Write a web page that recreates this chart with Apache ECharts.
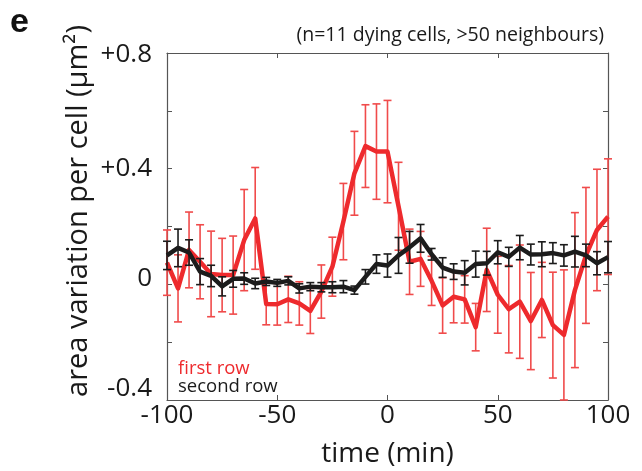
<!DOCTYPE html>
<html><head><meta charset="utf-8">
<script src="https://cdn.jsdelivr.net/npm/echarts@6/dist/echarts.min.js"></script>
<style>html,body{margin:0;padding:0;background:#fff}#c{width:642px;height:471px}</style>
</head><body><div id="c"></div>
<script>
var times = [-100,-95,-90,-85,-80,-75,-70,-65,-60,-55,-50,-45,-40,-35,-30,-25,-20,-15,-10,-5,0,5,10,15,20,25,30,35,40,45,50,55,60,65,70,75,80,85,90,95,100];
var firstRow = [0.075,-0.014,0.119,0.078,0.036,0.032,0.032,0.153,0.228,-0.068,-0.069,-0.052,-0.066,-0.092,-0.025,0.061,0.217,0.384,0.478,0.459,0.459,0.27,0.078,0.088,0.012,-0.073,-0.043,-0.052,-0.148,0.05,-0.036,-0.086,-0.06,-0.127,-0.054,-0.141,-0.175,-0.02,0.1,0.188,0.234];
var firstRowErr = [0.113,0.116,0.131,0.128,0.148,0.127,0.135,0.175,0.176,0.072,0.072,0.08,0.075,0.078,0.092,0.102,0.132,0.145,0.143,0.165,0.177,0.152,0.113,0.095,0.085,0.096,0.09,0.082,0.082,0.144,0.133,0.151,0.196,0.168,0.13,0.183,0.225,0.268,0.235,0.21,0.2];
var secondRow = [0.1,0.126,0.11,0.044,0.029,-0.007,0.019,0.02,0.003,0.01,0.005,0.012,-0.014,-0.008,-0.01,-0.01,-0.008,-0.02,0.026,0.07,0.065,0.1,0.128,0.159,0.104,0.058,0.044,0.04,0.07,0.073,0.111,0.095,0.127,0.103,0.104,0.108,0.1,0.113,0.1,0.073,0.094];
var secondRowErr = [0.049,0.065,0.044,0.045,0.037,0.033,0.029,0.02,0.018,0.014,0.012,0.014,0.016,0.014,0.016,0.019,0.021,0.014,0.025,0.032,0.04,0.062,0.055,0.048,0.02,0.034,0.027,0.042,0.045,0.041,0.04,0.033,0.042,0.036,0.043,0.036,0.037,0.053,0.039,0.04,0.054];
var yTickLabels = {'0.8':'+0.8','0.4':'+0.4','0':'0','-0.4':'-0.4'};

var FONT = 'Open Sans';
var RED = '#ee2a2d', RED_BAR = '#f04b4b', BLACK = '#1c1c1c';

function pairs(vals){ return times.map(function(t,i){ return [t, vals[i]]; }); }
function errData(vals, errs){ return times.map(function(t,i){ return [t, vals[i]-errs[i], vals[i]+errs[i]]; }); }
function errRender(color){
  return function(params, api){
    var x = api.value(0);
    var lo = api.coord([x, api.value(1)]);
    var hi = api.coord([x, api.value(2)]);
    var hw = 4;
    var st = {stroke: color, lineWidth: 1.6};
    return {type:'group', children:[
      {type:'line', shape:{x1:lo[0],y1:lo[1],x2:hi[0],y2:hi[1]}, style:st},
      {type:'line', shape:{x1:lo[0]-hw,y1:lo[1],x2:lo[0]+hw,y2:lo[1]}, style:st},
      {type:'line', shape:{x1:hi[0]-hw,y1:hi[1],x2:hi[0]+hw,y2:hi[1]}, style:st}
    ]};
  };
}

var chart = echarts.init(document.getElementById('c'), null, {renderer:'canvas'});
var axisLineStyle = {onZero:false, lineStyle:{color:'#555', width:1.2}};
var tickStyle = {inside:true, length:5, lineStyle:{color:'#555', width:1}};
var labelRich = {
  t:{fontFamily:FONT, fontSize:26, color:'#1a1a1a', padding:[4,0,0,0]},
  m:{fontFamily:FONT, fontSize:26, color:'#1a1a1a'},
  z:{fontFamily:FONT, fontSize:26, color:'#1a1a1a', padding:[0,0,12,0]},
  b:{fontFamily:FONT, fontSize:26, color:'#1a1a1a', padding:[0,0,22,0]}
};
chart.setOption({
  animation:false,
  backgroundColor:'#fff',
  grid:{left:167, right:34, top:53, bottom:71, containLabel:false, outerBoundsMode:'none'},
  xAxis:[
    {type:'value', min:-100, max:100, interval:50, position:'bottom',
     axisLine:axisLineStyle, axisTick:tickStyle, splitLine:{show:false},
     axisLabel:{fontFamily:FONT, fontSize:26, color:'#1a1a1a', margin:3},
     name:'time (min)', nameLocation:'middle', nameGap:40,
     nameTextStyle:{fontFamily:FONT, fontSize:28, color:'#1a1a1a'}},
    {type:'value', min:-100, max:100, interval:50, position:'top',
     axisLine:axisLineStyle, axisTick:tickStyle, splitLine:{show:false}, axisLabel:{show:false}}
  ],
  yAxis:[
    {type:'value', min:-0.4, max:0.8, interval:0.2, position:'left',
     axisLine:axisLineStyle, axisTick:tickStyle, splitLine:{show:false},
     axisLabel:{fontFamily:FONT, fontSize:26, color:'#1a1a1a', margin:15, rich:labelRich,
       formatter:function(v){
         var k = String(Math.round(v*10)/10);
         var s = yTickLabels[k];
         if (!s) return '';
         var key = k==='0.8' ? 't' : (k==='0' ? 'z' : (k==='-0.4' ? 'b' : 'm'));
         return '{' + key + '|' + s + '}';
       }}},
    {type:'value', min:-0.4, max:0.8, interval:0.2, position:'right',
     axisLine:axisLineStyle, axisTick:tickStyle, splitLine:{show:false}, axisLabel:{show:false}}
  ],
  graphic:[
    {type:'text', left:10, top:6, style:{text:'e', font:'bold 34px "Liberation Sans", Arial', fill:'#111'}},
    {type:'text', right:38, top:25, style:{text:'(n=11 dying cells, >50 neighbours)', font:'19.5px "Open Sans"', fill:'#1a1a1a'}},
    {type:'text', x:79, y:211, rotation:Math.PI/2, style:{text:'area variation per cell (μm²)', font:'29px "Open Sans"', fill:'#1a1a1a', align:'center', verticalAlign:'middle'}},
    {type:'text', x:178, y:359, style:{text:'first row', font:'18.5px "Open Sans"', fill:RED}},
    {type:'text', x:178, y:377, style:{text:'second row', font:'18.5px "Open Sans"', fill:'#1a1a1a'}}
  ],
  series:[
    {type:'custom', name:'first row err', data:errData(firstRow, firstRowErr), renderItem:errRender(RED_BAR), encode:{x:0, y:[1,2]}, z:2, silent:true},
    {type:'line', name:'first row', data:pairs(firstRow), showSymbol:false, symbol:'none', lineStyle:{color:RED, width:4.5, join:'round'}, z:3},
    {type:'custom', name:'second row err', data:errData(secondRow, secondRowErr), renderItem:errRender(BLACK), encode:{x:0, y:[1,2]}, z:4, silent:true},
    {type:'line', name:'second row', data:pairs(secondRow), showSymbol:false, symbol:'none', lineStyle:{color:BLACK, width:4.5, join:'round'}, z:5}
  ]
});
</script></body></html>
